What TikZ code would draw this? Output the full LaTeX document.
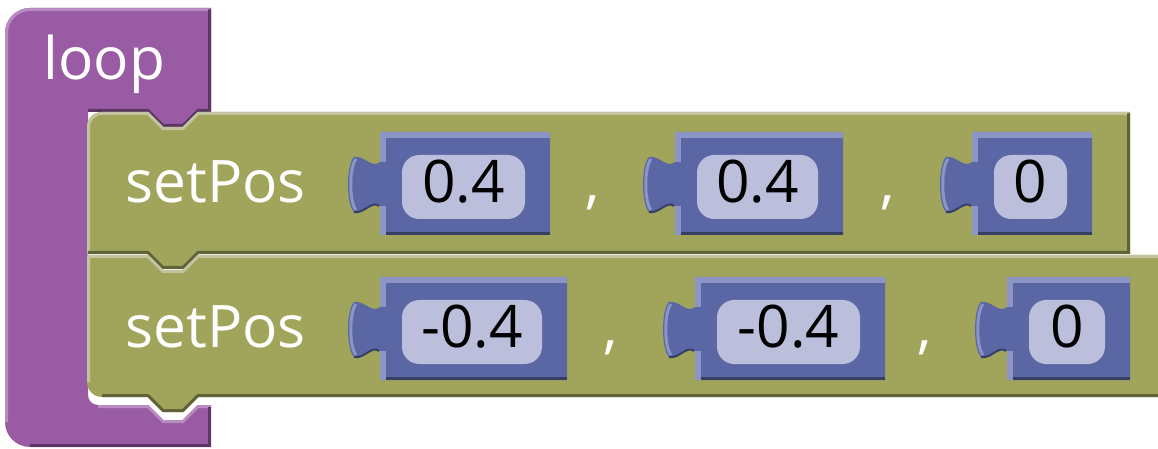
\documentclass[tikz,border=0pt]{standalone}
\usepackage{fontspec}
\setmainfont{Open Sans}
\definecolor{loopPurple}{RGB}{154,91,165}
\definecolor{loopLight}{RGB}{184,140,193}
\definecolor{loopDark}{RGB}{92,55,99}
\definecolor{stmtGreen}{RGB}{160,165,91}
\definecolor{stmtLight}{RGB}{193,196,158}
\definecolor{stmtDark}{RGB}{96,99,55}
\definecolor{valBlue}{RGB}{91,103,165}
\definecolor{valLight}{RGB}{140,149,198}
\definecolor{valDark}{RGB}{55,62,99}
\definecolor{valField}{RGB}{187,191,220}
\tikzset{every picture/.style={line width=0.75pt}}

\begin{document}
\begin{tikzpicture}[x=0.75pt,y=0.75pt,yscale=-1,xscale=1,
  hilite/.style={line width=2.25pt},
  lbltext/.style={inner sep=0pt,font=\fontsize{44}{52}\selectfont,text=white},
  numtext/.style={inner sep=0pt,font=\fontsize{44}{52}\selectfont,text=black}]
\useasboundingbox (0,0) rectangle (1158,449);

%Shape: Loop block [id:loop]
\fill [loopPurple] (5,33) .. controls (5,19.2) and (16.2,8) .. (30,8) -- (211,8) -- (211,112) -- (198,112) -- (183,127) -- (163,127) -- (148,112) -- (88,112) -- (88,395) .. controls (88,400.5) and (92.5,405) .. (98,405) -- (148,405) -- (163,420) -- (183,420) -- (198,405) -- (211,405) -- (211,447) -- (30,447) .. controls (16.2,447) and (5,435.8) .. (5,422) -- cycle ;
\draw [loopLight, hilite] (6.5,422) -- (6.5,33) .. controls (6.5,20) and (17,9.5) .. (30,9.5) -- (209.5,9.5) ;
\draw [loopDark, hilite] (209.5,9.5) -- (209.5,110.5) -- (198,110.5) -- (183,125.5) -- (163,125.5) -- (148,110.5) -- (88,110.5) ;
\draw [loopLight, hilite] (98,406.5) -- (148,406.5) -- (163,421.5) -- (183,421.5) -- (198,406.5) -- (211,406.5) ;
\draw [loopDark, hilite] (209.5,406.5) -- (209.5,445.5) -- (30,445.5) ;

%Shape: Statement block 1 [id:setpos1]
\fill [stmtGreen] (87,127) .. controls (87,118.7) and (93.7,112) .. (102,112) -- (148,112) -- (163,127) -- (183,127) -- (198,112) -- (1130,112) -- (1130,254) -- (198,254) -- (183,269) -- (163,269) -- (148,254) -- (87,254) -- cycle ;
\draw [stmtLight, hilite] (88.5,254) -- (88.5,127) .. controls (88.5,119.5) and (94.5,113.5) .. (102,113.5) -- (148,113.5) -- (163,128.5) -- (183,128.5) -- (198,113.5) -- (1128.5,113.5) ;
\draw [stmtDark, hilite] (1128.5,113.5) -- (1128.5,252.5) -- (198,252.5) -- (183,267.5) -- (163,267.5) -- (148,252.5) -- (88,252.5) ;

%Shape: Statement block 2 [id:setpos2]
\fill [stmtGreen] (87,255) -- (148,255) -- (163,270) -- (183,270) -- (198,255) -- (1160,255) -- (1160,397) -- (198,397) -- (183,412) -- (163,412) -- (148,397) -- (102,397) .. controls (93.7,397) and (87,390.3) .. (87,382) -- cycle ;
\draw [stmtLight, hilite] (88.5,382) -- (88.5,256.5) -- (148,256.5) -- (163,271.5) -- (183,271.5) -- (198,256.5) -- (1160,256.5) ;
\draw [stmtDark, hilite] (102,395.5) -- (148,395.5) -- (163,410.5) -- (183,410.5) -- (198,395.5) -- (1160,395.5) ;

%Shape: Value blocks
\foreach \nm/\xl/\xr/\yt/\val in {valA/380/550/132/0.4, valB/675/843/132/0.4, valC/972/1092/132/0, valD/380/567/277/-0.4, valE/695/885/277/-0.4, valF/1007/1130/277/0}
{
\fill [valBlue] (\xl,\yt) -- (\xr,\yt) -- (\xr,\yt+103) -- (\xl,\yt+103) -- (\xl,\yt+74) .. controls (\xl-8,\yt+68) and (\xl-16,\yt+82) .. (\xl-26,\yt+80) .. controls (\xl-34,\yt+72) and (\xl-34,\yt+33) .. (\xl-26,\yt+25) .. controls (\xl-16,\yt+23) and (\xl-8,\yt+37) .. (\xl,\yt+30) -- cycle ;
\draw [valLight, line width=4.5pt] (\xl+3,\yt+30) -- (\xl+3,\yt+3) -- (\xr,\yt+3) ;
\draw [valLight, line width=4.5pt] (\xl+3,\yt+74) -- (\xl+3,\yt+103) ;
\draw [valLight, hilite] (\xl-24,\yt+78) .. controls (\xl-31,\yt+70) and (\xl-31,\yt+35) .. (\xl-24,\yt+27) ;
\draw [valDark, line width=2.25pt] (\xl+6,\yt+101.5) -- (\xr,\yt+101.5) ;
\draw [valDark, line width=1.5pt] (\xl-1,\yt+74) .. controls (\xl-8,\yt+68) and (\xl-16,\yt+82) .. (\xl-26,\yt+80) ;
\fill [valField, rounded corners=13] (\xl+22,\yt+23) rectangle (\xr-25,\yt+87) ;
% Text Node
\node [numtext, anchor=base] (\nm) at ({(\xl+\xr-3)/2},\yt+71) {\val};
}

% Text Node
\node [lbltext, anchor=base west] (loop) at (43,80) {loop};
% Text Node
\node [lbltext, anchor=base west] (setposA) at (125,203) {setPos};
% Text Node
\node [lbltext, anchor=base west] (setposB) at (125,348) {setPos};
% Text Node
\node [lbltext, anchor=base] (commaA) at (593,203) {,};
% Text Node
\node [lbltext, anchor=base] (commaB) at (888,203) {,};
% Text Node
\node [lbltext, anchor=base] (commaC) at (611,348) {,};
% Text Node
\node [lbltext, anchor=base] (commaD) at (925,348) {,};

\end{tikzpicture}
\end{document}
